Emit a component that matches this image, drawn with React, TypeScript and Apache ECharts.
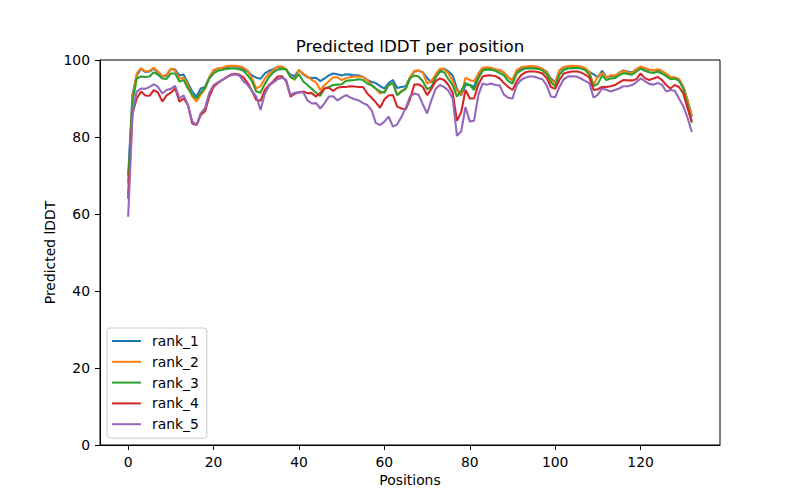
import React, { useEffect, useRef } from "react";
import * as echarts from "echarts";

const positions: number[] = Array.from({ length: 133 }, (_, i) => i);

const rank1 = [70, 91, 96, 97.7, 96.9, 97, 97.8, 96.7, 95.7, 96, 97.7, 97.5, 96, 96.2, 94, 91.8, 90.5, 92.6, 93, 95.5,
  97.2, 97.8, 97.8, 98.1, 98.3, 98.3, 98.2, 97.6, 97, 96, 95.4, 95.1, 96.5, 97.2, 97.6, 98.2, 98.2, 97.5, 96.2, 95.8,
  97.4, 96.3, 95.5, 95.3, 95.4, 94.5, 95.2, 96, 96.5, 96.3, 96, 96.3, 96.2, 96, 96, 95.6, 94.8, 94.3, 94, 93.2,
  92.6, 94, 94.8, 92.7, 93, 93.2, 95.5, 97, 97.2, 96.8, 95.3, 94.2, 95.5, 97.2, 97.8, 97, 96, 92.5, 90.8, 93.5,
  93.5, 93, 96, 97.8, 97.8, 97.6, 97.4, 97.3, 96.7, 95.6, 94.6, 97, 97.8, 98.2, 98.2, 98.2, 98.1, 97.7, 97, 95.2,
  94.2, 97.2, 98, 98.3, 98.3, 98.3, 98.2, 97.8, 96.8, 96.3, 95.5, 97.2, 95.5, 95.8, 95.8, 96.7, 97.3, 97, 96.8, 97.6,
  98.1, 97.8, 97.4, 97.3, 97.4, 97, 96.3, 95.5, 95.4, 95, 93, 89.5, 85.3];

const rank2 = [65, 90, 96.5, 97.9, 97, 97.2, 98, 97, 95.8, 96.2, 97.8, 97.2, 95.2, 95.4, 93.5, 90.5, 89.2, 91, 92.5, 95.5,
  97.4, 97.8, 98, 98.4, 98.5, 98.5, 98.4, 98, 97.2, 95.2, 92.6, 93.2, 95.2, 96.5, 97.3, 98.3, 98.3, 97.6, 95.7, 94.8,
  97.4, 96.5, 95.7, 94.8, 94.2, 92.2, 93.5, 94.5, 95.5, 95.5, 94.8, 95.3, 95.5, 95.7, 95.7, 95.6, 94.7, 93.5, 92.5, 91.3,
  91.8, 93.5, 94, 90.9, 92, 92.6, 95.5, 97.2, 97.3, 96.7, 93.9, 94.5, 96.2, 97.8, 97.6, 96.5, 94.5, 92, 90.9, 95.4,
  94.8, 94.5, 96.5, 98, 98.1, 98, 97.6, 97.4, 96.8, 95.5, 94.8, 97.4, 98.1, 98.3, 98.4, 98.4, 98.2, 97.7, 96.8, 94.8,
  94, 97.4, 98.2, 98.4, 98.5, 98.4, 98.3, 97.9, 97, 93.5, 95.8, 96.6, 95.5, 96, 96, 96.6, 97.2, 96.8, 96.7, 97.6,
  98.3, 97.9, 97.5, 97.3, 97.6, 97.2, 96.4, 95.6, 95.5, 95, 93, 89.5, 85.5];

const rank3 = [68, 89, 95.2, 95.7, 95.6, 95.7, 96.8, 96.2, 95.2, 95.1, 96.5, 96.5, 94.4, 94.8, 92.6, 90.9, 90, 91.5, 92.8, 95.2,
  96.5, 97.2, 97.4, 97.7, 97.8, 97.8, 97.6, 97.2, 96, 94.5, 91.8, 91.5, 93.8, 95.6, 96.8, 97.5, 97.7, 97.6, 95.5, 95.1,
  96.3, 94.4, 93.5, 92.5, 91.5, 90.7, 92.6, 93, 93.5, 93.6, 93.7, 94.6, 94.7, 94.8, 95, 94.8, 93.9, 93.4, 92.6, 91.8,
  91.5, 93.5, 94, 90.9, 91.8, 92.5, 95.2, 96, 95.7, 94.5, 92.4, 93, 95.5, 97, 96.8, 95, 93.5, 90.5, 92, 94,
  93.5, 92.2, 95.2, 97.3, 97.5, 97.5, 97.2, 96.6, 96, 94.5, 93.9, 96.5, 97.3, 97.8, 97.8, 97.8, 97.7, 97.3, 96.3, 94.2,
  93.2, 96.2, 97.4, 97.8, 97.9, 97.9, 97.8, 97.4, 96.2, 93.2, 93.8, 96, 94.8, 95.2, 95.3, 96, 96.6, 96.4, 96.2, 97,
  97.8, 97.2, 96.8, 96.6, 97, 96.5, 95.8, 95, 95.2, 94.6, 92.6, 88.3, 83.7];

const rank4 = [64, 86, 90, 91.8, 90.8, 90.7, 92.2, 91.5, 89.2, 90.8, 91.5, 92.6, 89.2, 90, 88.3, 83.5, 83.1, 85.7, 86.7, 90.5,
  93, 94, 94.8, 95.5, 96.2, 96.4, 96.2, 95.5, 94, 92, 89.6, 89.4, 92.2, 93.5, 94.5, 95.7, 95.8, 94.5, 90.5, 91.2,
  91.6, 91.8, 91.4, 91.4, 90.5, 91.5, 92.6, 92.8, 92, 92.8, 93, 93, 93.2, 93.1, 93, 93, 91.3, 90.2, 89, 87.6,
  89.8, 90.8, 90.9, 87.9, 87.4, 87.2, 89.8, 93.6, 93.7, 93, 90.9, 92.5, 94.5, 95.2, 94.8, 93.5, 91.5, 84.2, 86.5, 92.2,
  90, 90, 93.6, 95.7, 96, 96, 95.8, 95.2, 94, 93, 92.2, 94.5, 96, 96.8, 97, 97, 96.9, 96.5, 95.3, 93,
  92.5, 94.8, 96.5, 96.8, 97, 97, 96.8, 96.2, 95.5, 92.2, 92.4, 93, 93, 93.2, 93.5, 94.2, 94.8, 94.7, 94.7, 95,
  96.5, 95.3, 94.8, 95.2, 95.6, 94.8, 93.5, 92.6, 93.5, 93, 91.3, 87.5, 84];

const rank5 = [59.3, 86, 91.8, 92.6, 92.5, 93, 93.7, 93, 91.3, 92.2, 92.5, 93.3, 90, 90.8, 88.3, 84, 83.1, 86.2, 87.5, 91.5,
  93.5, 94.2, 94.8, 95.5, 96, 96.3, 96, 94.5, 93.5, 92, 90.5, 87, 91.2, 93.3, 94.2, 95, 95.4, 94.8, 90.9, 91.5,
  91.6, 91.6, 89.5, 88.7, 88.8, 87.4, 88.8, 90.5, 90.6, 89.5, 90.2, 90.9, 90.3, 89.8, 89.5, 88.8, 88.3, 87, 83.6, 83.1,
  84, 85.3, 82.7, 83.3, 85.2, 87.5, 90.5, 91.3, 91, 88.5, 86.1, 89.5, 92.5, 93.5, 93, 92, 90, 80.3, 81.5, 87.8,
  84, 84.2, 90.9, 93.9, 93.6, 93.9, 93.5, 93.4, 91, 90.2, 90, 93.5, 94.8, 95.4, 95.7, 95.7, 95.3, 95, 93.5, 90.5,
  90.3, 93, 95, 95.7, 95.8, 95.7, 95.2, 94.6, 94, 90.2, 91, 92.6, 92.3, 91.8, 92.2, 92.6, 93.2, 93.2, 93.5, 94.2,
  95.2, 94.5, 93.8, 93.6, 94, 93.6, 91.8, 92.2, 92, 90, 88, 85, 81.3];

const seriesNames = ["rank_1", "rank_2", "rank_3", "rank_4", "rank_5"];
const seriesValues = [rank1, rank2, rank3, rank4, rank5];
const colors = ["#1f77b4", "#ff7f0e", "#2ca02c", "#d62728", "#9467bd"];
const xTicks = [0, 20, 40, 60, 80, 100, 120];
const titleText = "Predicted lDDT per position";
const xLabel = "Positions";
const yLabel = "Predicted lDDT";

const FONT = "DejaVu Sans";

export default function App() {
  const ref = useRef<HTMLDivElement>(null);
  useEffect(() => {
    if (!ref.current) return;
    const chart = echarts.init(ref.current, undefined, { renderer: "svg" });
    chart.setOption({
      animation: false,
      backgroundColor: "#ffffff",
      textStyle: { fontFamily: FONT },
      grid: {
        left: 100,
        top: 60,
        width: 620,
        height: 385,
        show: true,
        borderColor: "#000",
        borderWidth: 1,
        backgroundColor: "transparent",
      },
      xAxis: {
        type: "value",
        min: -6.6,
        max: 138.6,
        splitLine: { show: false },
        axisLine: { show: true, onZero: false, lineStyle: { color: "#000", width: 1 } },
        axisTick: { show: true, inside: false, length: 5, customValues: xTicks, lineStyle: { color: "#000" } },
        axisLabel: { show: true, customValues: xTicks, margin: 10, color: "#000", fontSize: 13.9, fontFamily: FONT },
      },
      yAxis: {
        type: "value",
        min: 0,
        max: 100,
        interval: 20,
        splitLine: { show: false },
        axisLine: { show: true, onZero: false, lineStyle: { color: "#000", width: 1 } },
        axisTick: { show: true, inside: false, length: 5, lineStyle: { color: "#000" } },
        axisLabel: { margin: 10, color: "#000", fontSize: 13.9, fontFamily: FONT },
      },
      legend: {
        show: true,
        orient: "vertical",
        left: 107,
        top: 328,
        padding: [6, 8, 7, 4],
        itemWidth: 29,
        itemHeight: 14,
        itemGap: 6.8,
        itemStyle: { opacity: 0 },
        backgroundColor: "rgba(255,255,255,0.8)",
        borderColor: "#cccccc",
        borderWidth: 1,
        borderRadius: 3,
        textStyle: { color: "#000", fontSize: 13.9, fontFamily: FONT, padding: [0, 0, 0, 6] },
        data: seriesNames,
      },
      series: seriesNames.map((name, k) => ({
        name,
        type: "line",
        symbol: "none",
        showSymbol: false,
        color: colors[k],
        lineStyle: { width: 2.08, color: colors[k] },
        data: positions.map((p, i) => [p, seriesValues[k][i]]),
        z: 2 + k,
      })),
      graphic: [
        {
          type: "text",
          x: 410,
          y: 46,
          style: {
            text: titleText,
            fontSize: 16.7,
            fontFamily: FONT,
            fill: "#000",
            textAlign: "center",
            textVerticalAlign: "middle",
          },
        },
        {
          type: "text",
          x: 410,
          y: 480,
          style: {
            text: xLabel,
            fontSize: 13.9,
            fontFamily: FONT,
            fill: "#000",
            textAlign: "center",
            textVerticalAlign: "middle",
          },
        },
        {
          type: "text",
          x: 50,
          y: 252.5,
          rotation: Math.PI / 2,
          style: {
            text: yLabel,
            fontSize: 13.9,
            fontFamily: FONT,
            fill: "#000",
            textAlign: "center",
            textVerticalAlign: "middle",
          },
        },
      ],
    });
    return () => chart.dispose();
  }, []);
  return (
    <div
      ref={ref}
      style={{ position: "fixed", left: 0, top: 0, width: 800, height: 500, background: "#fff" }}
    />
  );
}
